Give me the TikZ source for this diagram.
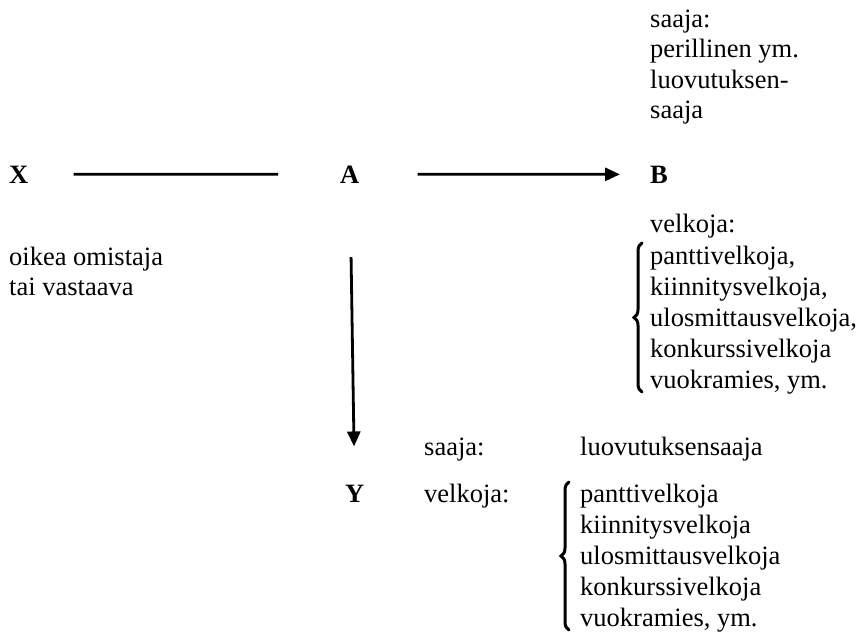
\documentclass[tikz,border=0pt]{standalone}
\usepackage{fontspec}
\setmainfont{Liberation Serif}
\usetikzlibrary{arrows.meta,decorations.pathreplacing}

\tikzset{
  txt/.style={anchor=base west,inner sep=0pt,font=\fontsize{26.5}{31}\selectfont},
  party/.style={txt,font=\fontsize{26.5}{31}\selectfont\bfseries},
  link/.style={line width=2.8pt},
  flow/.style={link,-{Triangle[length=15pt,width=13pt]}},
  curly/.style={decorate,decoration={brace,amplitude=8pt},line width=3pt,line cap=round},
}

\begin{document}
\begin{tikzpicture}[x=1pt,y=-1pt]
  \useasboundingbox (0,0) rectangle (861,635);
  % the three parties on the main row
  \node[party] (X) at (9,183) {X};
  \node[party] (A) at (340,183) {A};
  \node[party] (B) at (650,183) {B};
  \node[party] (Y) at (345,502) {Y};
  \draw[link,shorten <=45pt,shorten >=62pt] (X) -- (A);
  \draw[flow,shorten <=58pt,shorten >=30pt] (A) -- (B);
  \draw[flow,shorten <=74pt,shorten >=38pt] (A) -- (Y);
  % above B
  \node[txt] (bs1) at (650,27) {saaja:};
  \node[txt] (bs2) at (650,57) {perillinen ym.};
  \node[txt] (bs3) at (650,88) {luovutuksen-};
  \node[txt] (bs4) at (650,118) {saaja};
  % under X
  \node[txt] (x1) at (9,265) {oikea omistaja};
  \node[txt] (x2) at (9,295) {tai vastaava};
  % under B
  \node[txt] (bv) at (650,232) {velkoja:};
  \node[txt] (bv1) at (650,264) {panttivelkoja,};
  \node[txt] (bv2) at (650,295) {kiinnitysvelkoja,};
  \node[txt] (bv3) at (650,326) {ulosmittausvelkoja,};
  \node[txt] (bv4) at (650,357) {konkurssivelkoja};
  \node[txt] (bv5) at (650,388) {vuokramies, ym.};
  \draw[curly] ([xshift=-8pt,yshift=-4pt]bv5.base west) -- ([xshift=-8pt,yshift=21pt]bv1.base west);
  % beside Y
  \node[txt] (ys) at (424,455) {saaja:};
  \node[txt] (ys1) at (580,455) {luovutuksensaaja};
  \node[txt] (yv) at (424,502) {velkoja:};
  \node[txt] (yv1) at (580,502) {panttivelkoja};
  \node[txt] (yv2) at (580,533) {kiinnitysvelkoja};
  \node[txt] (yv3) at (580,564) {ulosmittausvelkoja};
  \node[txt] (yv4) at (580,595) {konkurssivelkoja};
  \node[txt] (yv5) at (580,626) {vuokramies, ym.};
  \draw[curly] ([xshift=-11pt,yshift=-4pt]yv5.base west) -- ([xshift=-11pt,yshift=20pt]yv1.base west);
\end{tikzpicture}
\end{document}
